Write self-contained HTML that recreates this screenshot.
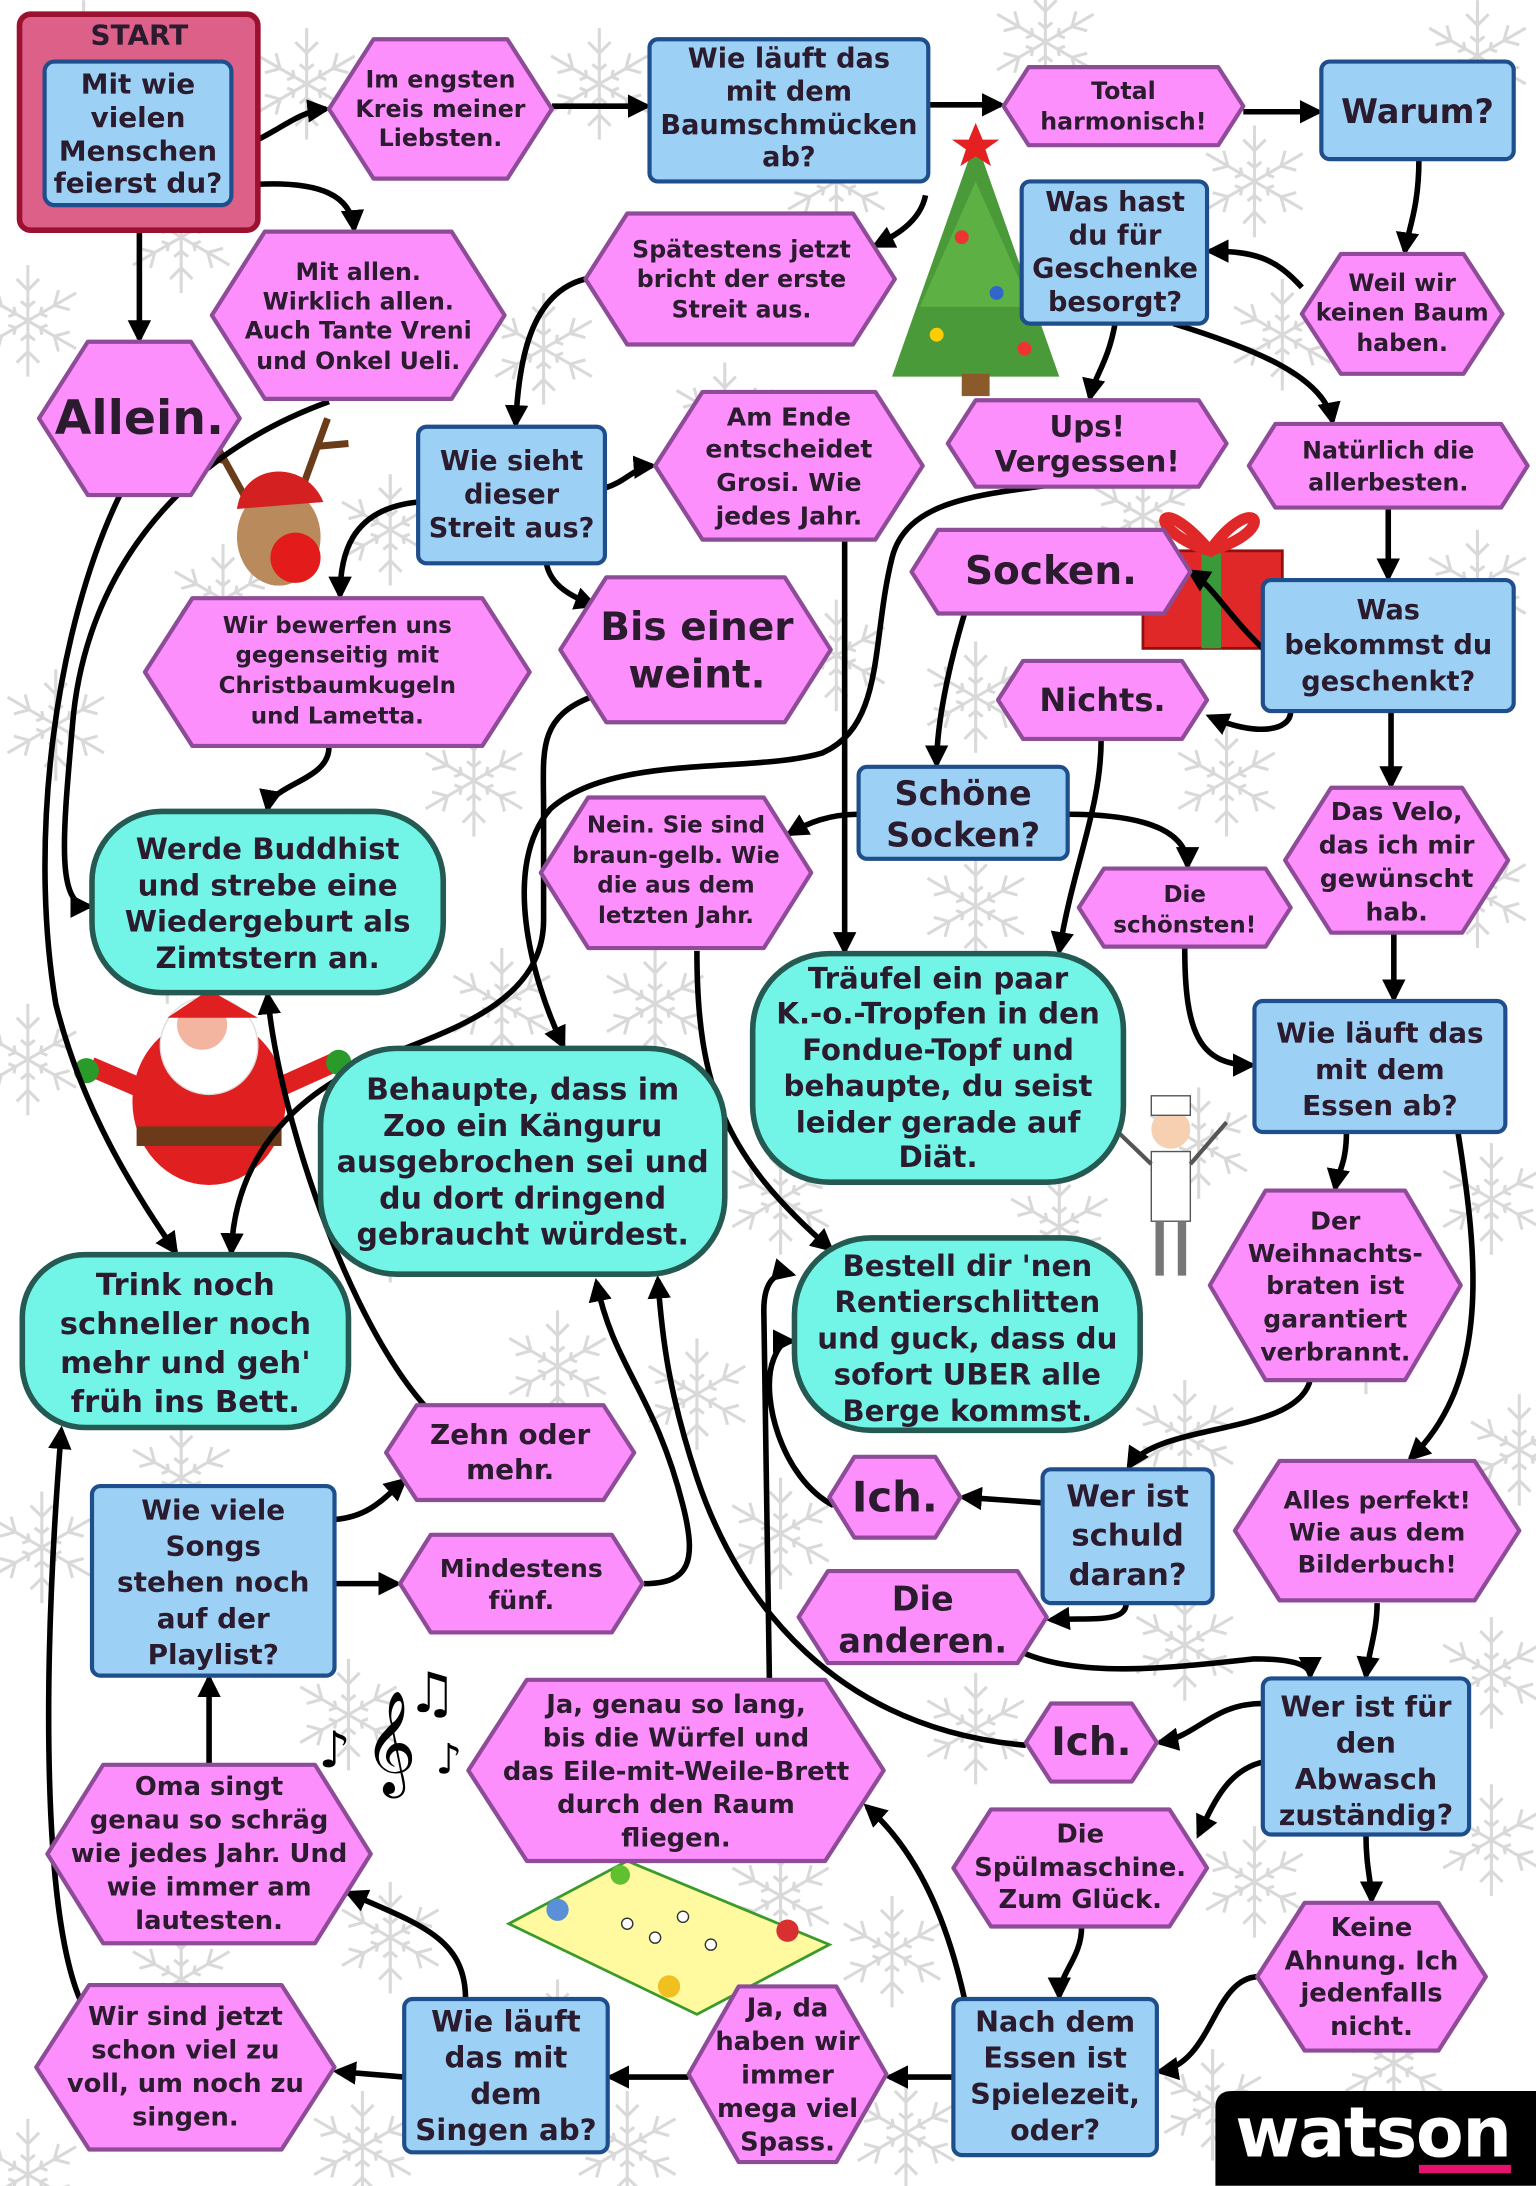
<!DOCTYPE html>
<html><head><meta charset="utf-8"><style>
html,body{margin:0;padding:0;background:#fff}
svg{display:block}
text{font-family:"DejaVu Sans","Liberation Sans",sans-serif;font-weight:bold;fill:#2b1b2e;text-anchor:middle;dominant-baseline:central}
.h{fill:#fd8ffd;stroke:#8e4c98;stroke-width:3;stroke-linejoin:round}
.b{fill:#9cd1f5;stroke:#1f4e8c;stroke-width:3}
.t{fill:#72f5e6;stroke:#245a52;stroke-width:4}
.e{fill:none;stroke:#000;stroke-width:4;marker-end:url(#ar)}
.sf{stroke:#d9d9d9;stroke-width:2.2;fill:none}
</style></head><body>
<svg width="1536" height="2186" viewBox="0 0 1102 1568" xmlns="http://www.w3.org/2000/svg">
<defs>
<marker id="ar" viewBox="0 0 10 10" refX="8" refY="5" markerWidth="4.2" markerHeight="4.2" orient="auto" markerUnits="strokeWidth"><path d="M0,0 L10,5 L0,10 z" fill="#000"/></marker>
<g id="sn"><g class="sf">
<path d="M0,-40V40M-34.6,-20L34.6,20M-34.6,20L34.6,-20"/>
<path d="M-8,-30L0,-22L8,-30M-8,30L0,22L8,30M-30,-8L-19,-11L-22,-22M30,8L19,11L22,22M30,-8L19,-11L22,-22M-30,8L-19,11L-22,22"/>
<path d="M-5,-14L0,-10L5,-14M-5,14L0,10L5,14M-14,-3L-9,-5L-10,-10M14,3L9,5L10,10M14,-3L9,-5L10,-10M-14,3L-9,5L-10,10"/>
</g></g>
</defs>
<rect width="1102" height="1568" fill="#fff"/>
<!-- snowflakes -->
<use href="#sn" x="60" y="40"/><use href="#sn" x="430" y="60"/><use href="#sn" x="750" y="30"/><use href="#sn" x="1060" y="40"/>
<use href="#sn" x="390" y="250"/><use href="#sn" x="920" y="240"/><use href="#sn" x="20" y="230"/><use href="#sn" x="280" y="380"/>
<use href="#sn" x="600" y="470"/><use href="#sn" x="1060" y="420"/><use href="#sn" x="40" y="520"/><use href="#sn" x="340" y="560"/>
<use href="#sn" x="700" y="650"/><use href="#sn" x="1060" y="640"/><use href="#sn" x="470" y="720"/><use href="#sn" x="20" y="760"/>
<use href="#sn" x="860" y="820"/><use href="#sn" x="1070" y="860"/><use href="#sn" x="200" y="960"/><use href="#sn" x="500" y="1000"/>
<use href="#sn" x="850" y="1030"/><use href="#sn" x="30" y="1110"/><use href="#sn" x="700" y="1240"/><use href="#sn" x="1070" y="1200"/>
<use href="#sn" x="280" y="1390"/><use href="#sn" x="870" y="1510"/><use href="#sn" x="450" y="1540"/><use href="#sn" x="20" y="1560"/>
<use href="#sn" x="1070" y="1320"/><use href="#sn" x="640" y="1400"/>
<use href="#sn" x="220" y="60"/><use href="#sn" x="600" y="130"/><use href="#sn" x="900" y="130"/><use href="#sn" x="130" y="170"/>
<use href="#sn" x="520" y="300"/><use href="#sn" x="820" y="370"/><use href="#sn" x="160" y="430"/><use href="#sn" x="700" y="500"/>
<use href="#sn" x="880" y="560"/><use href="#sn" x="250" y="620"/><use href="#sn" x="520" y="640"/><use href="#sn" x="120" y="680"/>
<use href="#sn" x="360" y="720"/><use href="#sn" x="560" y="860"/><use href="#sn" x="280" y="880"/><use href="#sn" x="760" y="880"/>
<use href="#sn" x="980" y="960"/><use href="#sn" x="400" y="980"/><use href="#sn" x="130" y="1060"/><use href="#sn" x="560" y="1100"/>
<use href="#sn" x="250" y="1230"/><use href="#sn" x="850" y="1180"/><use href="#sn" x="560" y="1360"/><use href="#sn" x="900" y="1350"/>
<use href="#sn" x="130" y="1420"/><use href="#sn" x="400" y="1460"/><use href="#sn" x="650" y="1530"/><use href="#sn" x="1000" y="1480"/>
<use href="#sn" x="260" y="1540"/><use href="#sn" x="1090" y="1040"/>
<!-- tree -->
<polygon points="700,100 760,270 640,270" fill="#4a9a3a"/>
<polygon points="700,130 740,220 660,220" fill="#5cb044"/>
<rect x="690" y="268" width="20" height="16" fill="#8a5a2a"/>
<polygon points="700,88 705,100 717,100 707,107 711,119 700,112 689,119 693,107 683,100 695,100" fill="#e52020"/>
<circle cx="690" cy="170" r="5" fill="#e33"/><circle cx="715" cy="210" r="5" fill="#36c"/><circle cx="672" cy="240" r="5" fill="#fc0"/><circle cx="735" cy="250" r="5" fill="#e33"/>
<!-- gift -->
<rect x="820" y="395" width="100" height="70" fill="#e02828" stroke="#901010" stroke-width="2"/>
<rect x="862" y="395" width="14" height="70" fill="#3a9a3a"/>
<path d="M868,395 C830,350 820,380 868,395 C900,350 920,380 868,395" fill="none" stroke="#e02828" stroke-width="8"/>
<!-- reindeer -->
<path d="M175,355 L150,310 M160,330 L135,325 M215,355 L235,300 M228,320 L250,318" stroke="#6a3c1a" stroke-width="5"/>
<ellipse cx="200" cy="385" rx="30" ry="35" fill="#b98a5c"/>
<path d="M170,365 C175,330 220,330 232,360 Z" fill="#d42020"/>
<circle cx="212" cy="400" r="18" fill="#e41b1b"/>
<!-- santa -->
<ellipse cx="150" cy="790" rx="55" ry="60" fill="#e02020"/>
<circle cx="150" cy="750" r="35" fill="#fff" stroke="#ddd"/>
<circle cx="145" cy="735" r="18" fill="#f3b4a0"/>
<path d="M120,730 L150,710 L185,730 Z" fill="#e02020"/>
<rect x="98" y="808" width="104" height="14" fill="#6a3a1a"/>
<path d="M100,780 L65,765 M200,780 L240,762" stroke="#e02020" stroke-width="14"/>
<circle cx="62" cy="768" r="9" fill="#2a9a2a"/><circle cx="243" cy="762" r="9" fill="#2a9a2a"/>
<!-- chef -->
<circle cx="840" cy="810" r="14" fill="#f6d0b0"/><rect x="826" y="786" width="28" height="14" fill="#fff" stroke="#555"/>
<rect x="826" y="826" width="28" height="50" fill="#fff" stroke="#555"/>
<path d="M832,876 V915 M848,876 V915" stroke="#777" stroke-width="6"/>
<path d="M826,835 L800,810 M854,835 L880,805" stroke="#555" stroke-width="3"/>
<!-- music -->
<text x="280" y="1250" style="font-size:64px;font-weight:normal;fill:#000">𝄞</text>
<text x="240" y="1255" style="font-size:36px;font-weight:normal;fill:#000">♪</text>
<text x="310" y="1215" style="font-size:40px;font-weight:normal;fill:#000">♫</text>
<text x="322" y="1262" style="font-size:30px;font-weight:normal;fill:#000">♪</text>
<!-- game board -->
<polygon points="365,1380 450,1335 595,1395 500,1445" fill="#fffaa0" stroke="#3a9a2a" stroke-width="2"/>
<circle cx="400" cy="1370" r="8" fill="#5a90d8"/><circle cx="565" cy="1385" r="8" fill="#d83030"/><circle cx="480" cy="1425" r="8" fill="#f0c020"/><circle cx="445" cy="1345" r="7" fill="#60c030"/>
<circle cx="450" cy="1380" r="4" fill="#fff" stroke="#333"/><circle cx="470" cy="1390" r="4" fill="#fff" stroke="#333"/><circle cx="490" cy="1375" r="4" fill="#fff" stroke="#333"/><circle cx="510" cy="1395" r="4" fill="#fff" stroke="#333"/>

<!-- edges -->
<g>
<path class="e" d="M185,100 C205,90 215,80 234,78"/>
<path class="e" d="M185,132 C230,130 252,140 254,164"/>
<path class="e" d="M100,165 L100,243"/>
<path class="e" d="M396,76 L464,76"/>
<path class="e" d="M666,75 L718,75"/>
<path class="e" d="M892,80 L946,80"/>
<path class="e" d="M664,140 C660,160 640,170 628,176"/>
<path class="e" d="M1018,114 C1018,150 1010,165 1008,180"/>
<path class="e" d="M934,206 C915,185 900,180 868,180"/>
<path class="e" d="M420,200 C380,210 372,260 370,304"/>
<path class="e" d="M434,350 C450,345 455,335 468,334"/>
<path class="e" d="M300,360 C250,365 244,400 244,427"/>
<path class="e" d="M392,404 C395,420 410,428 426,434"/>
<path class="e" d="M800,232 C795,260 785,270 782,285"/>
<path class="e" d="M842,232 C900,250 950,270 956,302"/>
<path class="e" d="M996,364 L996,414"/>
<path class="e" d="M906,465 C880,440 870,420 854,410"/>
<path class="e" d="M926,510 C926,525 900,528 868,514"/>
<path class="e" d="M998,510 L998,563"/>
<path class="e" d="M692,440 C680,480 672,520 672,548"/>
<path class="e" d="M616,584 C595,584 580,590 566,598"/>
<path class="e" d="M766,584 C830,584 852,600 852,621"/>
<path class="e" d="M790,530 C790,580 770,620 760,682"/>
<path class="e" d="M606,388 L606,682"/>
<path class="e" d="M752,348 C700,355 650,360 640,400 C625,460 635,520 590,540 C540,555 440,540 395,580 C360,620 380,700 404,750"/>
<path class="e" d="M424,500 C385,515 390,540 390,580 L390,660 C390,720 320,740 270,760 C200,790 168,840 166,898"/>
<path class="e" d="M500,682 C500,780 520,830 596,896"/>
<path class="e" d="M236,288 C120,330 60,420 52,520 C45,600 40,650 64,650"/>
<path class="e" d="M86,355 C40,450 20,600 40,720 C60,800 100,860 126,898"/>
<path class="e" d="M236,536 C236,560 195,562 192,580"/>
<path class="e" d="M1000,669 L1000,716"/>
<path class="e" d="M850,680 C850,740 860,764 898,764"/>
<path class="e" d="M966,812 C966,835 960,840 958,852"/>
<path class="e" d="M1046,812 C1060,900 1070,990 1012,1046"/>
<path class="e" d="M940,990 C930,1030 830,1020 810,1052"/>
<path class="e" d="M748,1078 L691,1074"/>
<path class="e" d="M808,1150 C808,1165 780,1160 754,1162"/>
<path class="e" d="M598,1080 C560,1060 545,1000 555,975 C560,962 565,962 568,962"/>
<path class="e" d="M552,1205 L548,940 C548,915 560,912 568,914"/>
<path class="e" d="M736,1252 C600,1240 530,1150 500,1060 C480,1000 475,960 472,918"/>
<path class="e" d="M735,1186 C780,1205 850,1195 900,1190 C930,1190 940,1195 940,1202"/>
<path class="e" d="M988,1150 C988,1170 982,1185 980,1202"/>
<path class="e" d="M906,1222 C870,1222 860,1245 832,1250"/>
<path class="e" d="M906,1264 C880,1270 870,1295 860,1316"/>
<path class="e" d="M980,1316 C980,1340 984,1350 984,1363"/>
<path class="e" d="M902,1418 C870,1420 870,1480 832,1486"/>
<path class="e" d="M776,1382 C776,1405 760,1415 760,1432"/>
<path class="e" d="M692,1434 C680,1380 660,1330 622,1296"/>
<path class="e" d="M684,1490 L638,1490"/>
<path class="e" d="M494,1490 L438,1490"/>
<path class="e" d="M290,1490 L242,1486"/>
<path class="e" d="M334,1434 C334,1390 300,1380 250,1358"/>
<path class="e" d="M150,1266 L150,1204"/>
<path class="e" d="M60,1440 C30,1380 30,1200 44,1026"/>
<path class="e" d="M240,1090 C265,1088 275,1075 290,1062"/>
<path class="e" d="M240,1136 L285,1136"/>
<path class="e" d="M462,1136 C495,1136 500,1120 490,1080 C470,1000 440,980 428,920"/>
<path class="e" d="M308,1012 C250,950 200,800 192,714"/>
</g>

<!-- START -->
<rect x="14" y="10" width="171" height="155" rx="8" fill="#dc6088" stroke="#9c1030" stroke-width="4"/>
<text x="100" y="25" style="font-size:20px">START</text>
<rect class="b" x="32" y="44" width="134" height="103" rx="7"/>
<g style="font-size:20px"><text x="99" y="60">Mit wie</text><text x="99" y="84">vielen</text><text x="99" y="108">Menschen</text><text x="99" y="131">feierst du?</text></g>

<!-- hexagons -->
<polygon class="h" points="268,28 364,28 396,78 364,128 268,128 236,78"/>
<g style="font-size:17px"><text x="316" y="57">Im engsten</text><text x="316" y="78">Kreis meiner</text><text x="316" y="99">Liebsten.</text></g>
<polygon class="h" points="738,48 874,48 892,76 874,104 738,104 720,76"/>
<g style="font-size:17px"><text x="806" y="65">Total</text><text x="806" y="87">harmonisch!</text></g>
<polygon class="h" points="962,182 1050,182 1078,225 1050,268 962,268 934,225"/>
<g style="font-size:17px"><text x="1006" y="203">Weil wir</text><text x="1006" y="224">keinen Baum</text><text x="1006" y="246">haben.</text></g>
<polygon class="h" points="190,166 324,166 362,226 324,286 190,286 152,226"/>
<g style="font-size:17px"><text x="257" y="195">Mit allen.</text><text x="257" y="216">Wirklich allen.</text><text x="257" y="237">Auch Tante Vreni</text><text x="257" y="259">und Onkel Ueli.</text></g>
<polygon class="h" points="450,153 612,153 642,200 612,247 450,247 420,200"/>
<g style="font-size:17px"><text x="532" y="179">Spätestens jetzt</text><text x="532" y="200">bricht der erste</text><text x="532" y="222">Streit aus.</text></g>
<polygon class="h" points="63,245 137,245 172,300 137,355 63,355 28,300"/>
<text x="100" y="300" style="font-size:34px">Allein.</text>
<polygon class="h" points="504,281 628,281 662,334 628,387 504,387 470,334"/>
<g style="font-size:18px"><text x="566" y="299">Am Ende</text><text x="566" y="322">entscheidet</text><text x="566" y="346">Grosi. Wie</text><text x="566" y="370">jedes Jahr.</text></g>
<polygon class="h" points="700,287 860,287 880,318 860,349 700,349 680,318"/>
<g style="font-size:21px"><text x="780" y="306">Ups!</text><text x="780" y="331">Vergessen!</text></g>
<polygon class="h" points="915,304 1077,304 1096,334 1077,364 915,364 896,334"/>
<g style="font-size:17px"><text x="996" y="323">Natürlich die</text><text x="996" y="346">allerbesten.</text></g>
<polygon class="h" points="673,380 835,380 854,410 835,440 673,440 654,410"/>
<text x="754" y="410" style="font-size:28px">Socken.</text>
<polygon class="h" points="734,474 848,474 866,502 848,530 734,530 716,502"/>
<text x="791" y="502" style="font-size:23px">Nichts.</text>
<polygon class="h" points="138,429 346,429 380,482 346,535 138,535 104,482"/>
<g style="font-size:16.5px"><text x="242" y="449">Wir bewerfen uns</text><text x="242" y="470">gegenseitig mit</text><text x="242" y="492">Christbaumkugeln</text><text x="242" y="514">und Lametta.</text></g>
<polygon class="h" points="435,414 563,414 596,466 563,518 435,518 402,466"/>
<g style="font-size:28px"><text x="500" y="450">Bis einer</text><text x="500" y="484">weint.</text></g>
<polygon class="h" points="422,572 548,572 582,626 548,680 422,680 388,626"/>
<g style="font-size:16.5px"><text x="485" y="592">Nein. Sie sind</text><text x="485" y="614">braun-gelb. Wie</text><text x="485" y="635">die aus dem</text><text x="485" y="657">letzten Jahr.</text></g>
<polygon class="h" points="792,623 908,623 926,651 908,679 792,679 774,651"/>
<g style="font-size:16.5px"><text x="850" y="642">Die</text><text x="850" y="664">schönsten!</text></g>
<polygon class="h" points="955,565 1049,565 1082,617 1049,669 955,669 922,617"/>
<g style="font-size:18px"><text x="1002" y="582">Das Velo,</text><text x="1002" y="606">das ich mir</text><text x="1002" y="630">gewünscht</text><text x="1002" y="654">hab.</text></g>
<polygon class="h" points="908,854 1008,854 1048,922 1008,990 908,990 868,922"/>
<g style="font-size:18px"><text x="958" y="876">Der</text><text x="958" y="899">Weihnachts-</text><text x="958" y="922">braten ist</text><text x="958" y="946">garantiert</text><text x="958" y="970">verbrannt.</text></g>
<polygon class="h" points="299,1008 433,1008 455,1042 433,1076 299,1076 277,1042"/>
<g style="font-size:20px"><text x="366" y="1029">Zehn oder</text><text x="366" y="1054">mehr.</text></g>
<polygon class="h" points="613,1045 671,1045 689,1074 671,1103 613,1103 595,1074"/>
<text x="642" y="1074" style="font-size:30px">Ich.</text>
<polygon class="h" points="918,1048 1058,1048 1090,1098 1058,1148 918,1148 886,1098"/>
<g style="font-size:17.5px"><text x="988" y="1076">Alles perfekt!</text><text x="988" y="1099">Wie aus dem</text><text x="988" y="1122">Bilderbuch!</text></g>
<polygon class="h" points="309,1101 439,1101 461,1136 439,1171 309,1171 287,1136"/>
<g style="font-size:18px"><text x="374" y="1125">Mindestens</text><text x="374" y="1148">fünf.</text></g>
<polygon class="h" points="594,1127 730,1127 751,1160 730,1193 594,1193 573,1160"/>
<g style="font-size:24px"><text x="662" y="1147">Die</text><text x="662" y="1177">anderen.</text></g>
<polygon class="h" points="754,1222 812,1222 830,1250 812,1278 754,1278 736,1250"/>
<text x="783" y="1250" style="font-size:28px">Ich.</text>
<polygon class="h" points="378,1205 592,1205 634,1270 592,1335 378,1335 336,1270"/>
<g style="font-size:18.5px"><text x="485" y="1223">Ja, genau so lang,</text><text x="485" y="1247">bis die Würfel und</text><text x="485" y="1271">das Eile-mit-Weile-Brett</text><text x="485" y="1295">durch den Raum</text><text x="485" y="1319">fliegen.</text></g>
<polygon class="h" points="74,1266 226,1266 266,1330 226,1394 74,1394 34,1330"/>
<g style="font-size:18.5px"><text x="150" y="1282">Oma singt</text><text x="150" y="1306">genau so schräg</text><text x="150" y="1330">wie jedes Jahr. Und</text><text x="150" y="1354">wie immer am</text><text x="150" y="1378">lautesten.</text></g>
<polygon class="h" points="711,1298 839,1298 866,1340 839,1382 711,1382 684,1340"/>
<g style="font-size:18.5px"><text x="775" y="1316">Die</text><text x="775" y="1340">Spülmaschine.</text><text x="775" y="1363">Zum Glück.</text></g>
<polygon class="h" points="936,1365 1032,1365 1066,1418 1032,1471 936,1471 902,1418"/>
<g style="font-size:18.5px"><text x="984" y="1383">Keine</text><text x="984" y="1407">Ahnung. Ich</text><text x="984" y="1430">jedenfalls</text><text x="984" y="1454">nicht.</text></g>
<polygon class="h" points="64,1424 202,1424 240,1483 202,1542 64,1542 26,1483"/>
<g style="font-size:18.5px"><text x="133" y="1447">Wir sind jetzt</text><text x="133" y="1471">schon viel zu</text><text x="133" y="1495">voll, um noch zu</text><text x="133" y="1519">singen.</text></g>
<polygon class="h" points="530,1425 600,1425 636,1488 600,1551 530,1551 494,1488"/>
<g style="font-size:18.5px"><text x="565" y="1441">Ja, da</text><text x="565" y="1465">haben wir</text><text x="565" y="1489">immer</text><text x="565" y="1513">mega viel</text><text x="565" y="1537">Spass.</text></g>

<!-- blue boxes -->
<rect class="b" x="466" y="28" width="200" height="102" rx="6"/>
<g style="font-size:19.5px"><text x="566" y="42">Wie läuft das</text><text x="566" y="66">mit dem</text><text x="566" y="90">Baumschmücken</text><text x="566" y="113">ab?</text></g>
<rect class="b" x="948" y="44" width="138" height="70" rx="6"/>
<text x="1017" y="80" style="font-size:24px">Warum?</text>
<rect class="b" x="733" y="130" width="133" height="102" rx="6"/>
<g style="font-size:19.5px"><text x="800" y="145">Was hast</text><text x="800" y="169">du für</text><text x="800" y="193">Geschenke</text><text x="800" y="217">besorgt?</text></g>
<rect class="b" x="300" y="306" width="134" height="98" rx="6"/>
<g style="font-size:19.5px"><text x="367" y="331">Wie sieht</text><text x="367" y="355">dieser</text><text x="367" y="379">Streit aus?</text></g>
<rect class="b" x="906" y="416" width="180" height="94" rx="6"/>
<g style="font-size:19.5px"><text x="996" y="438">Was</text><text x="996" y="463">bekommst du</text><text x="996" y="489">geschenkt?</text></g>
<rect class="b" x="616" y="550" width="150" height="66" rx="6"/>
<g style="font-size:24px"><text x="691" y="569">Schöne</text><text x="691" y="599">Socken?</text></g>
<rect class="b" x="900" y="718" width="180" height="94" rx="6"/>
<g style="font-size:20px"><text x="990" y="741">Wie läuft das</text><text x="990" y="767">mit dem</text><text x="990" y="793">Essen ab?</text></g>
<rect class="b" x="748" y="1054" width="122" height="96" rx="6"/>
<g style="font-size:22px"><text x="809" y="1074">Wer ist</text><text x="809" y="1102">schuld</text><text x="809" y="1130">daran?</text></g>
<rect class="b" x="66" y="1066" width="174" height="136" rx="6"/>
<g style="font-size:20px"><text x="153" y="1083">Wie viele</text><text x="153" y="1109">Songs</text><text x="153" y="1135">stehen noch</text><text x="153" y="1161">auf der</text><text x="153" y="1187">Playlist?</text></g>
<rect class="b" x="906" y="1204" width="148" height="112" rx="6"/>
<g style="font-size:20.5px"><text x="980" y="1224">Wer ist für</text><text x="980" y="1250">den</text><text x="980" y="1276">Abwasch</text><text x="980" y="1302">zuständig?</text></g>
<rect class="b" x="290" y="1434" width="146" height="110" rx="6"/>
<g style="font-size:21px"><text x="363" y="1450">Wie läuft</text><text x="363" y="1476">das mit</text><text x="363" y="1502">dem</text><text x="363" y="1528">Singen ab?</text></g>
<rect class="b" x="684" y="1434" width="146" height="112" rx="6"/>
<g style="font-size:20.5px"><text x="757" y="1450">Nach dem</text><text x="757" y="1476">Essen ist</text><text x="757" y="1502">Spielezeit,</text><text x="757" y="1528">oder?</text></g>

<!-- teal -->
<rect class="t" x="66" y="582" width="252" height="130" rx="50"/>
<g style="font-size:21px"><text x="192" y="609">Werde Buddhist</text><text x="192" y="635">und strebe eine</text><text x="192" y="661">Wiedergeburt als</text><text x="192" y="687">Zimtstern an.</text></g>
<rect class="t" x="540" y="684" width="266" height="164" rx="55"/>
<g style="font-size:21px"><text x="673" y="702">Träufel ein paar</text><text x="673" y="727">K.-o.-Tropfen in den</text><text x="673" y="753">Fondue-Topf und</text><text x="673" y="779">behaupte, du seist</text><text x="673" y="805">leider gerade auf</text><text x="673" y="830">Diät.</text></g>
<rect class="t" x="230" y="752" width="290" height="162" rx="55"/>
<g style="font-size:21.5px"><text x="375" y="782">Behaupte, dass im</text><text x="375" y="808">Zoo ein Känguru</text><text x="375" y="834">ausgebrochen sei und</text><text x="375" y="860">du dort dringend</text><text x="375" y="886">gebraucht würdest.</text></g>
<rect class="t" x="16" y="900" width="234" height="124" rx="45"/>
<g style="font-size:22px"><text x="133" y="922">Trink noch</text><text x="133" y="950">schneller noch</text><text x="133" y="978">mehr und geh'</text><text x="133" y="1006">früh ins Bett.</text></g>
<rect class="t" x="570" y="888" width="248" height="138" rx="55"/>
<g style="font-size:21px"><text x="694" y="908">Bestell dir 'nen</text><text x="694" y="934">Rentierschlitten</text><text x="694" y="960">und guck, dass du</text><text x="694" y="986">sofort UBER alle</text><text x="694" y="1012">Berge kommst.</text></g>

<!-- watson -->
<path d="M884,1500 H1102 V1568 H872 V1512 Q872,1500 884,1500 Z" fill="#000"/>
<text x="985" y="1530" style="font-size:50px;fill:#fff;letter-spacing:-1px">watson</text>
<rect x="1018" y="1553" width="66" height="6" fill="#e5126e"/>
</svg>
</body></html>
